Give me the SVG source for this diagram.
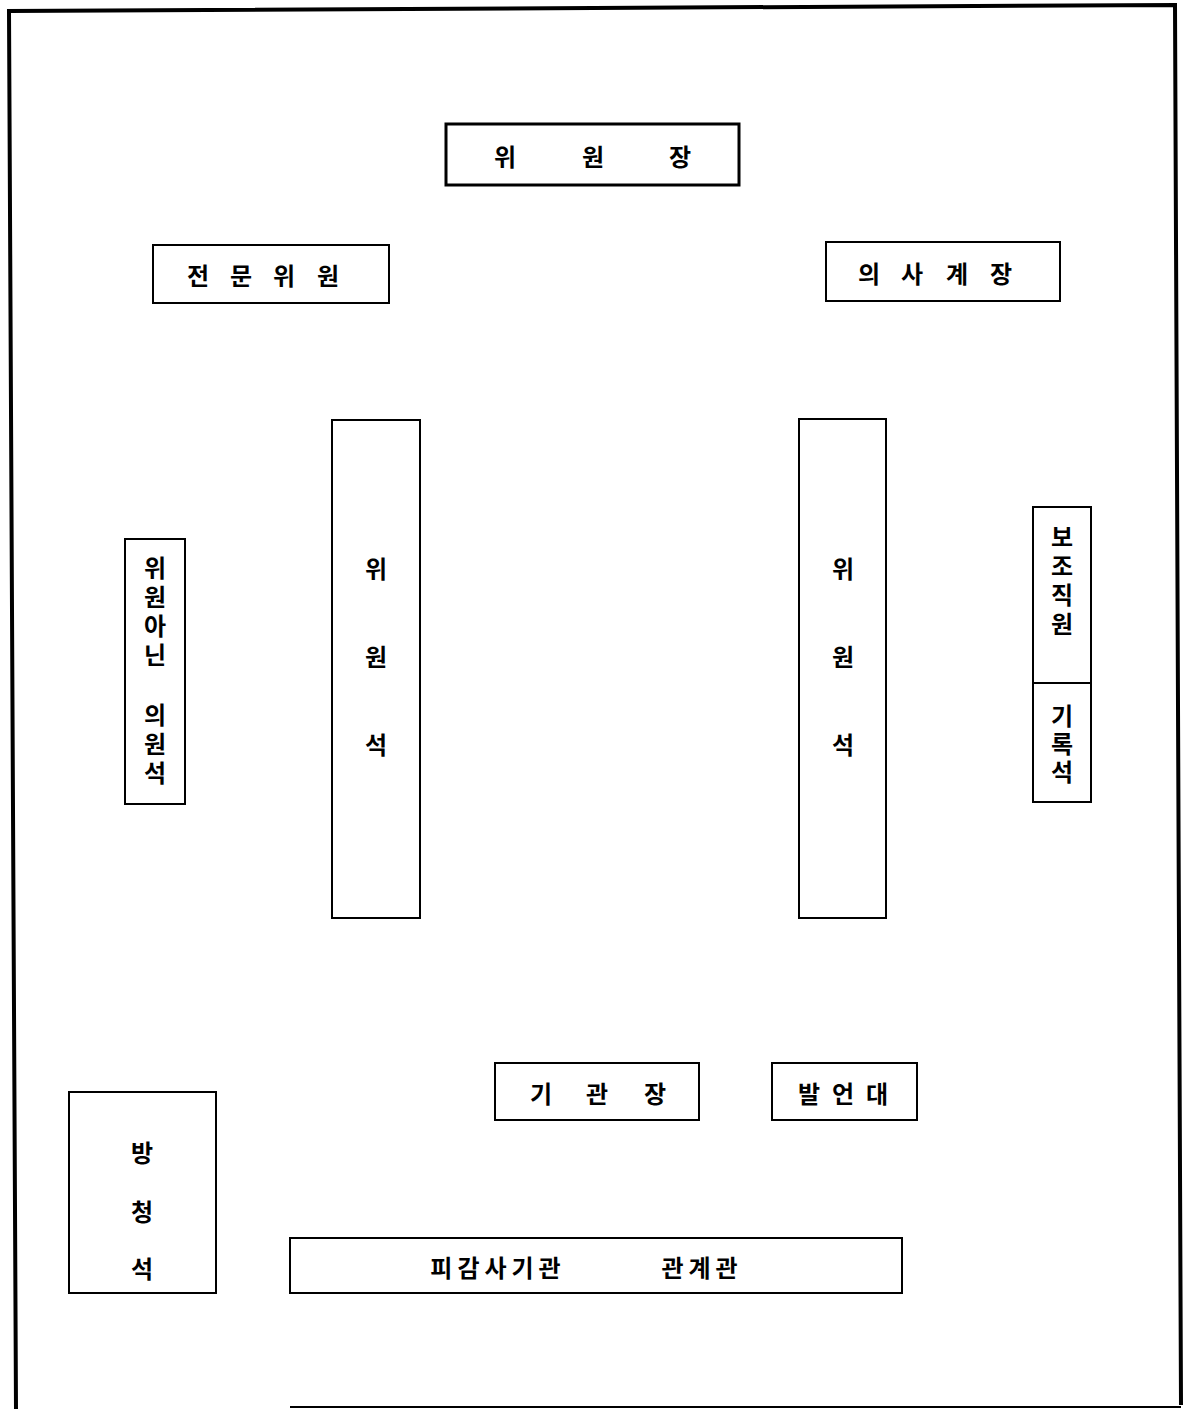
<svg xmlns="http://www.w3.org/2000/svg" width="1187" height="1409" viewBox="0 0 1187 1409">
<style>
.box{fill:#fff;stroke:#000;stroke-width:2}
.thick{stroke-width:3}
.t{font-family:"Noto Sans CJK KR","Noto Sans",sans-serif;font-weight:bold;font-size:24px;fill:#000;text-anchor:middle;dominant-baseline:central}
.v{font-family:"Noto Sans CJK KR","Noto Sans",sans-serif;font-weight:bold;font-size:24px;fill:#000;writing-mode:vertical-rl;text-orientation:upright;letter-spacing:5px}
.frame{fill:none;stroke:#000;stroke-width:4;stroke-linejoin:miter}
</style>
<rect width="1187" height="1409" fill="#fff"/>
<g id="frame">
<polyline class="frame" points="16,1409 9,11 1175,5 1181,1405"/>
<line x1="290" y1="1407" x2="1181" y2="1407" stroke="#000" stroke-width="2"/>
</g>
<g id="chairman">
<rect class="box thick" x="446" y="124" width="293" height="61"/>
<text class="t"><tspan x="505" y="155">위</tspan><tspan x="593" y="155">원</tspan><tspan x="680" y="155">장</tspan></text>
</g>
<g id="expert">
<rect class="box" x="153" y="245" width="236" height="58"/>
<text class="t"><tspan x="198" y="274">전</tspan><tspan x="241" y="274">문</tspan><tspan x="284" y="274">위</tspan><tspan x="328" y="274">원</tspan></text>
</g>
<g id="clerk">
<rect class="box" x="826" y="242" width="234" height="59"/>
<text class="t"><tspan x="869" y="272">의</tspan><tspan x="912" y="272">사</tspan><tspan x="957" y="272">계</tspan><tspan x="1001" y="272">장</tspan></text>
</g>
<g id="members-left">
<rect class="box" x="332" y="420" width="88" height="498"/>
<text class="t"><tspan x="376" y="567">위</tspan><tspan x="376" y="655">원</tspan><tspan x="376" y="743">석</tspan></text>
</g>
<g id="members-right">
<rect class="box" x="799" y="419" width="87" height="499"/>
<text class="t"><tspan x="843" y="567">위</tspan><tspan x="843" y="655">원</tspan><tspan x="843" y="743">석</tspan></text>
</g>
<g id="nonmembers">
<rect class="box" x="125" y="539" width="60" height="265"/>
<text class="v" x="155" y="556">위원아닌</text>
<text class="v" x="155" y="703">의원석</text>
</g>
<g id="staff">
<rect class="box" x="1033" y="507" width="58" height="176"/>
<text class="v" x="1062" y="525">보조직원</text>
</g>
<g id="record">
<rect class="box" x="1033" y="683" width="58" height="119"/>
<text class="v" x="1062" y="704" style="letter-spacing:4px">기록석</text>
</g>
<g id="gallery">
<rect class="box" x="69" y="1092" width="147" height="201"/>
<text class="t"><tspan x="142" y="1151">방</tspan><tspan x="142" y="1210">청</tspan><tspan x="142" y="1267">석</tspan></text>
</g>
<g id="agency-head">
<rect class="box" x="495" y="1063" width="204" height="57"/>
<text class="t"><tspan x="541" y="1092">기</tspan><tspan x="597" y="1092">관</tspan><tspan x="655" y="1092">장</tspan></text>
</g>
<g id="podium">
<rect class="box" x="772" y="1063" width="145" height="57"/>
<text class="t"><tspan x="809" y="1092">발</tspan><tspan x="843" y="1092">언</tspan><tspan x="877" y="1092">대</tspan></text>
</g>
<g id="officials">
<rect class="box" x="290" y="1238" width="612" height="55"/>
<text class="t" style="letter-spacing:5px"><tspan x="498" y="1266">피감사기관</tspan><tspan x="702" y="1266">관계관</tspan></text>
</g>
<g id="connectors"></g>
</svg>
